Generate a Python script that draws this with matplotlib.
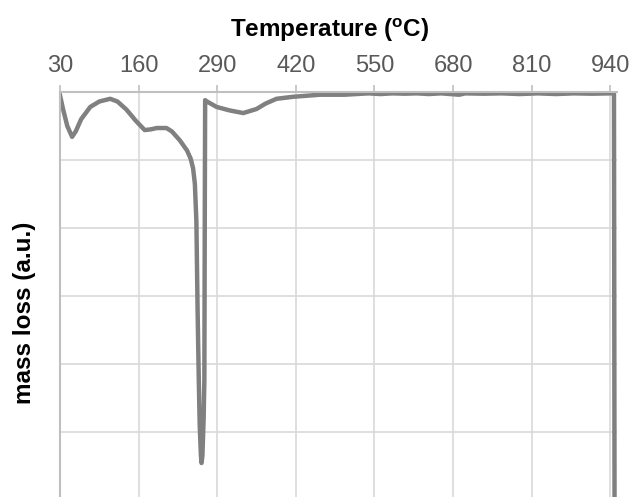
import numpy as np
import matplotlib.pyplot as plt

plt.rcParams['font.family'] = ['Liberation Sans', 'DejaVu Sans']
plt.rcParams['mathtext.fontset'] = 'custom'
plt.rcParams['mathtext.rm'] = 'Liberation Sans'
plt.rcParams['mathtext.bf'] = 'Liberation Sans:bold'

# temperatura (C) y perdida de masa (u.a.)
temp = [30, 35, 42, 50, 56, 65, 80, 95, 113, 125, 140, 155, 170, 180, 190, 206,
        215, 228, 240, 246, 250, 253, 255.5, 257.5, 259.5, 261, 263, 264, 265.5,
        267.5, 268.7, 269.5, 270, 273, 289, 310, 333, 355, 370, 388, 416, 460,
        500, 520, 540, 560, 580, 600, 620, 640, 660, 690, 700, 730, 760, 790,
        820, 850, 880, 910, 940, 946, 947]
masa = [-0.05, -0.25, -0.5, -0.66, -0.58, -0.40, -0.22, -0.14, -0.10, -0.14,
        -0.26, -0.42, -0.56, -0.55, -0.53, -0.53, -0.58, -0.71, -0.86, -0.98,
        -1.12, -1.35, -1.9, -3.2, -4.24, -4.9, -5.35, -5.46, -5.35, -4.8, -4.24,
        -1.5, -0.12, -0.14, -0.22, -0.27, -0.31, -0.25, -0.17, -0.10, -0.07,
        -0.04, -0.04, -0.03, -0.02, -0.03, -0.02, -0.025, -0.02, -0.03, -0.02,
        -0.04, -0.02, -0.025, -0.02, -0.03, -0.02, -0.03, -0.02, -0.025, -0.02,
        -0.02, -6.5]
ticks_x = [30, 160, 290, 420, 550, 680, 810, 940]

fig = plt.figure(figsize=(6.3, 4.97), dpi=100)
ax = fig.add_axes([60/630, 0, (617-60)/630, 1 - 92/497])

ax.plot(temp, masa, color='#808080', lw=3.2, solid_joinstyle='round')

ax.set_xlim(30, 951)
ax.set_ylim(-5.96, 0)
ax.set_xticks(ticks_x)
ax.set_yticks([-1, -2, -3, -4, -5])
ax.set_yticklabels([])
ax.grid(True, color='#d9d9d9', lw=1.2)
ax.set_axisbelow(True)

ax.xaxis.tick_top()
ax.xaxis.set_label_position('top')
ax.tick_params(axis='x', colors='#bfbfbf', labelcolor='#595959', labelsize=17,
               length=5, width=1.2, pad=6)
ax.tick_params(axis='y', length=0)

for s in ['right', 'bottom']:
    ax.spines[s].set_visible(False)
for s in ['top', 'left']:
    ax.spines[s].set_color('#bfbfbf')
    ax.spines[s].set_linewidth(1.5)

ax.set_xlabel(r'Temperature ($\mathbf{^o}$C)', fontsize=17.5, fontweight='bold')
ax.xaxis.set_label_coords(0.485, 1.135)
ax.set_ylabel('mass loss (a.u.)', fontsize=17.5, fontweight='bold')
ax.yaxis.set_label_coords(-0.043, 0.454)

fig.savefig('out.png', dpi=100)
